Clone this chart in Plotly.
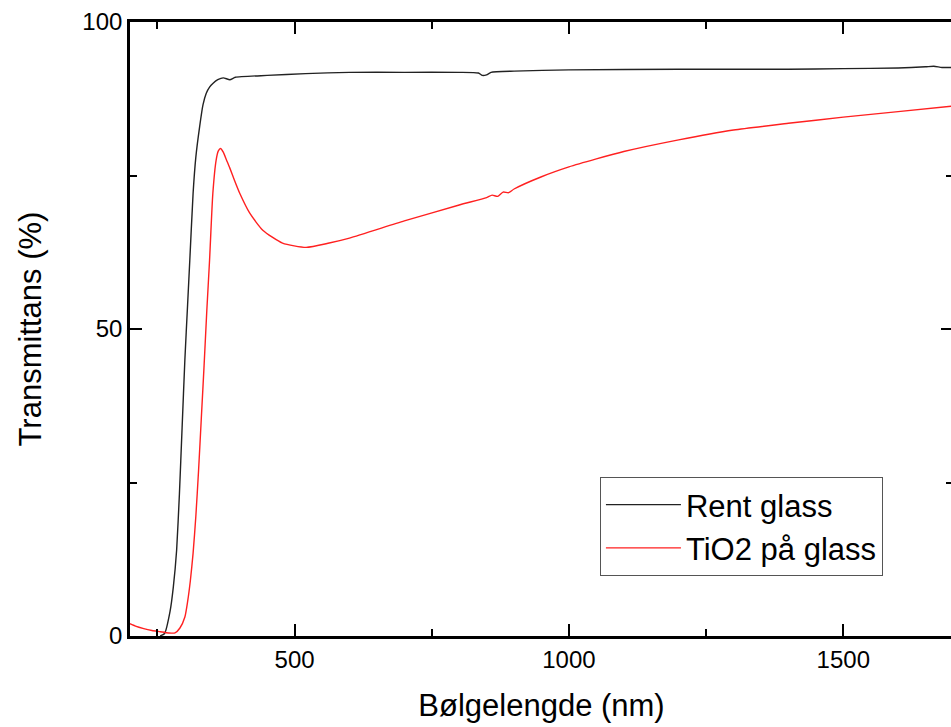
import plotly.graph_objects as go

# Rent glass (black)
wl_glass = [255, 263, 273, 279, 285, 290, 295, 300, 305, 309, 315, 320, 327, 333, 339, 345, 351,
            360, 370, 382, 392, 450, 520, 600, 700, 800, 835, 842, 850, 858, 900, 1000, 1200,
            1400, 1500, 1600, 1650, 1665, 1680, 1700]
t_glass = [0.0, 0.4, 4.0, 8.0, 14.0, 23.0, 34.0, 45.0, 54.0, 61.2, 72.1, 78.0, 83.0, 86.5, 88.4,
           89.4, 90.0, 90.6, 90.9, 90.6, 91.0, 91.3, 91.6, 91.8, 91.8, 91.8, 91.7, 91.3, 91.4,
           91.8, 92.0, 92.2, 92.3, 92.3, 92.4, 92.5, 92.7, 92.8, 92.6, 92.6]

# TiO2 på glass (red)
wl_tio2 = [200, 210, 225, 240, 255, 270, 282, 291, 300, 305, 310, 315, 320, 325, 330, 335, 340,
           345, 351, 357, 361, 365, 370, 376, 382, 390, 400, 418, 442, 478, 521, 563, 600, 700,
           800, 850, 860, 870, 880, 890, 900, 950, 1000, 1050, 1100, 1200, 1300, 1400, 1500, 1600, 1700]
t_tio2 = [2.0, 1.6, 1.2, 0.9, 0.7, 0.5, 0.5, 1.3, 3.1, 5.6, 9.0, 13.5, 19.5, 27.0, 35.5, 44.0,
          53.0, 61.2, 72.1, 77.5, 79.0, 79.4, 78.8, 77.5, 76.2, 74.3, 72.1, 68.9, 66.1, 64.0,
          63.3, 64.0, 64.8, 67.6, 70.2, 71.4, 71.8, 71.6, 72.3, 72.2, 72.8, 74.8, 76.4, 77.7,
          78.9, 80.8, 82.4, 83.5, 84.5, 85.4, 86.3]

x_ticks = [500, 1000, 1500]
y_ticks = [0, 50, 100]

FONT = "Liberation Sans, Arial, sans-serif"

fig = go.Figure()
fig.add_trace(go.Scatter(x=wl_glass, y=t_glass, mode="lines", name="Rent glass",
                         line=dict(color="#222222", width=1.4, shape="spline", smoothing=0.5)))
fig.add_trace(go.Scatter(x=wl_tio2, y=t_tio2, mode="lines", name="TiO2 på glass",
                         line=dict(color="#ff2020", width=1.4, shape="spline", smoothing=0.6)))

axis_common = dict(
    showline=True, linecolor="black", linewidth=2.7, mirror="allticks",
    ticks="inside", ticklen=12, tickwidth=2, tickcolor="black",
    showgrid=False, zeroline=False,
    tickfont=dict(family=FONT, size=24, color="black"),
)

fig.update_layout(
    width=960, height=727,
    margin=dict(l=130, r=4, t=22, b=91),
    paper_bgcolor="white", plot_bgcolor="white",
    font=dict(family=FONT, color="black"),
    showlegend=True,
    legend=dict(x=0.571, y=0.259, xanchor="left", yanchor="top",
                bgcolor="white", bordercolor="#555555", borderwidth=1,
                font=dict(family=FONT, size=31, color="black"),
                itemwidth=75, tracegroupgap=0),
    xaxis=dict(range=[200, 1700], tickvals=x_ticks, ticktext=[str(v) for v in x_ticks],
               minor=dict(ticks="inside", ticklen=7, tickwidth=2, tickcolor="black", dtick=250, tick0=0),
               title=dict(text="Bølgelengde (nm)", font=dict(family=FONT, size=31, color="black"), standoff=23),
               **axis_common),
    yaxis=dict(range=[0, 100], tickvals=y_ticks, ticktext=[str(v) for v in y_ticks],
               minor=dict(ticks="inside", ticklen=7, tickwidth=2, tickcolor="black", dtick=25, tick0=0),
               title=dict(text="Transmittans (%)", font=dict(family=FONT, size=31, color="black"), standoff=32),
               **axis_common),
)

fig.write_html("out.html", config={"displayModeBar": False},
               post_script="document.body.style.margin='0';document.body.style.overflow='hidden';document.documentElement.style.overflow='hidden';")
